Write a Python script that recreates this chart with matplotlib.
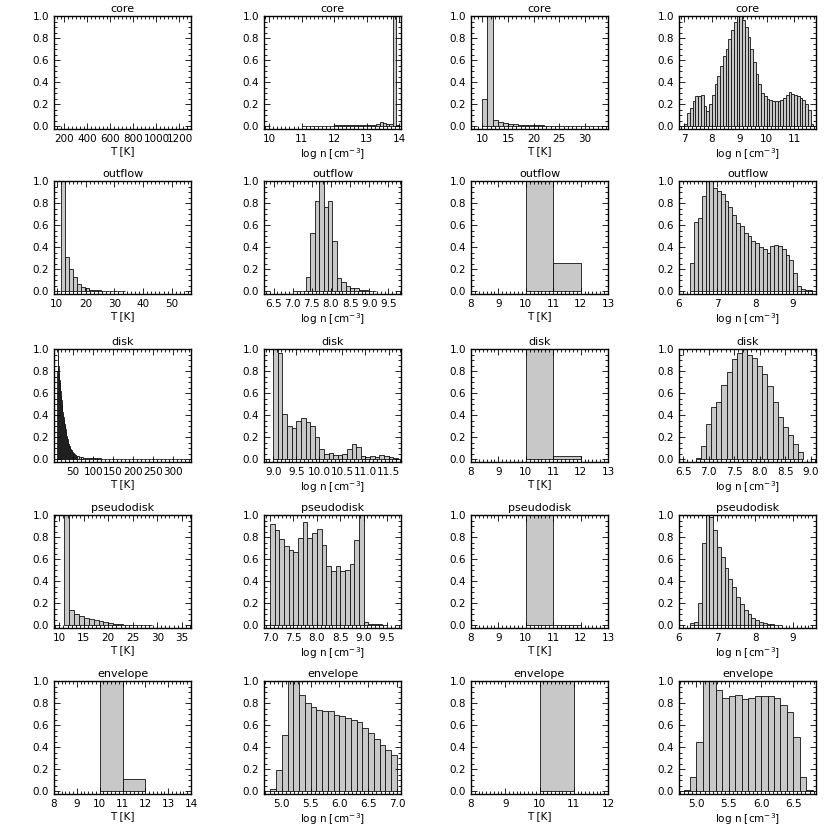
import numpy as np
import matplotlib
matplotlib.use("Agg")
import matplotlib.pyplot as plt
from matplotlib.ticker import MultipleLocator, AutoMinorLocator

plt.rcParams["font.family"] = ["DejaVu Sans"]
plt.rcParams["font.size"] = 7.5

# ---------------------------------------------------------------------------
# Data: normalised histograms (bin start, bin width, heights)
# ---------------------------------------------------------------------------
regions = ["core", "outflow", "disk", "pseudodisk", "envelope"]

# column 1 : T [K]
core_T1_start, core_T1_width = 10.0, 1.0
core_T1 = []  # nothing visible in range
outflow_T1_start, outflow_T1_width = 11.4, 1.4
outflow_T1 = [1.0, 0.31, 0.20, 0.13, 0.07, 0.04, 0.025, 0.015, 0.01, 0.008, 0.006,
              0.005, 0.004, 0.003, 0.003, 0.002]
disk_T1_start, disk_T1_width = 10.0, 1.0
disk_T1 = [0.80, 1.0, 0.95, 0.85, 0.78, 0.72, 0.70, 0.66, 0.62, 0.58,
           0.54, 0.50, 0.46, 0.43, 0.40, 0.38, 0.36, 0.34, 0.32, 0.30,
           0.27, 0.25, 0.23, 0.21, 0.20, 0.18, 0.17, 0.15, 0.14, 0.13,
           0.12, 0.11, 0.10, 0.09, 0.085, 0.08, 0.075, 0.07, 0.065, 0.06,
           0.055, 0.05, 0.048, 0.045, 0.042, 0.04, 0.037, 0.035, 0.032, 0.03]
disk_T1_tail_start, disk_T1_tail_width = 60.0, 5.0
disk_T1_tail = [0.025, 0.02, 0.017, 0.015, 0.013, 0.012, 0.011, 0.010, 0.009, 0.008,
                0.007, 0.007, 0.006, 0.006, 0.005, 0.005, 0.005, 0.004, 0.004, 0.004,
                0.004, 0.003, 0.003, 0.003, 0.003, 0.003, 0.003, 0.002, 0.002, 0.002,
                0.002, 0.002, 0.002, 0.002, 0.002, 0.002, 0.002, 0.002, 0.002, 0.002,
                0.002, 0.002, 0.002, 0.002, 0.002, 0.002, 0.002, 0.002, 0.002, 0.002,
                0.002, 0.002, 0.002, 0.002]
pseudo_T1_start, pseudo_T1_width = 11.0, 1.0
pseudo_T1 = [1.0, 0.14, 0.10, 0.08, 0.065, 0.055, 0.045, 0.035, 0.025, 0.018,
             0.012, 0.008, 0.006, 0.004, 0.003, 0.002, 0.002, 0.001]
env_T1_start, env_T1_width = 10.0, 1.0
env_T1 = [1.0, 0.11]

# column 2 : log n [cm^-3]
core_n1_start, core_n1_width = 11.0, 0.1
core_n1 = [0.002, 0.002, 0.002, 0.003, 0.003, 0.004, 0.004, 0.005, 0.006, 0.006,
           0.007, 0.008, 0.010, 0.012, 0.015, 0.014, 0.010, 0.008, 0.008, 0.010,
           0.012, 0.012, 0.015, 0.020, 0.035, 0.030, 0.022, 0.020, 1.0, 0.010]
outflow_n1_start, outflow_n1_width = 7.0, 0.115
outflow_n1 = [0.004, 0.005, 0.006, 0.13, 0.53, 0.82, 1.0, 0.76, 0.82, 0.46,
              0.12, 0.08, 0.05, 0.03, 0.025, 0.015, 0.01, 0.005, 0.003]
disk_n1_start, disk_n1_width = 9.0, 0.1
disk_n1 = [1.0, 0.96, 0.41, 0.30, 0.28, 0.35, 0.37, 0.34, 0.30, 0.20,
           0.09, 0.05, 0.06, 0.04, 0.04, 0.05, 0.09, 0.14, 0.11, 0.03,
           0.02, 0.03, 0.02, 0.04, 0.03, 0.02, 0.01]
pseudo_n1_start, pseudo_n1_width = 7.0, 0.1
pseudo_n1 = [0.92, 0.86, 0.78, 0.72, 0.68, 0.66, 0.79, 0.94, 0.79, 0.84,
             0.87, 0.73, 0.54, 0.49, 0.54, 0.49, 0.50, 0.56, 0.77, 1.0,
             0.03, 0.015, 0.015, 0.01, 0.005]
env_n1_start, env_n1_width = 4.8, 0.1
env_n1 = [0.02, 0.19, 0.51, 1.0, 1.0, 0.87, 0.80, 0.76, 0.74, 0.73,
          0.73, 0.69, 0.68, 0.66, 0.65, 0.63, 0.57, 0.53, 0.47, 0.42,
          0.37, 0.33]

# column 3 : T [K]
core_T2_start, core_T2_width = 10.0, 1.0
core_T2 = [0.25, 1.0, 0.06, 0.04, 0.03, 0.02, 0.02, 0.015, 0.012, 0.01,
           0.008, 0.007, 0.006, 0.005, 0.004, 0.004, 0.003, 0.003, 0.002, 0.002,
           0.002, 0.002, 0.001, 0.001]
outflow_T2_start, outflow_T2_width = 10.0, 1.0
outflow_T2 = [1.0, 0.26]
disk_T2_start, disk_T2_width = 10.0, 1.0
disk_T2 = [1.0, 0.03]
pseudo_T2_start, pseudo_T2_width = 10.0, 1.0
pseudo_T2 = [1.0, 0.005]
env_T2_start, env_T2_width = 10.0, 1.0
env_T2 = [1.0]

# column 4 : log n [cm^-3]
core_n2_start, core_n2_width = 7.0, 0.1
core_n2 = [0.02, 0.12, 0.17, 0.23, 0.27, 0.27, 0.28, 0.18, 0.14, 0.20,
           0.28, 0.38, 0.46, 0.55, 0.64, 0.70, 0.79, 0.87, 0.95, 1.0,
           1.0, 0.96, 0.90, 0.81, 0.70, 0.58, 0.47, 0.38, 0.30, 0.27,
           0.25, 0.24, 0.23, 0.23, 0.23, 0.24, 0.26, 0.28, 0.31, 0.29,
           0.28, 0.27, 0.26, 0.24, 0.20, 0.15, 0.02]
outflow_n2_start, outflow_n2_width = 6.3, 0.1
outflow_n2 = [0.26, 0.63, 0.66, 0.86, 1.0, 1.0, 0.94, 0.91, 0.88, 0.82,
              0.76, 0.69, 0.62, 0.59, 0.53, 0.50, 0.46, 0.44, 0.40, 0.38,
              0.35, 0.41, 0.42, 0.41, 0.38, 0.33, 0.28, 0.17, 0.05, 0.02,
              0.01, 0.01]
disk_n2_start, disk_n2_width = 6.75, 0.1
disk_n2 = [0.01, 0.12, 0.32, 0.47, 0.52, 0.67, 0.79, 0.91, 0.96, 1.0,
           0.95, 0.92, 0.85, 0.77, 0.66, 0.52, 0.38, 0.29, 0.22, 0.14,
           0.07]
pseudo_n2_start, pseudo_n2_width = 6.3, 0.1
pseudo_n2 = [0.02, 0.03, 0.20, 0.75, 1.0, 0.98, 0.86, 0.71, 0.62, 0.52,
             0.42, 0.35, 0.26, 0.19, 0.14, 0.10, 0.07, 0.05, 0.03, 0.02,
             0.015, 0.01, 0.005, 0.003]
env_n2_start, env_n2_width = 4.8, 0.1
env_n2 = [0.01, 0.13, 0.45, 1.0, 1.0, 0.92, 0.85, 0.86, 0.87, 0.84,
          0.85, 0.86, 0.86, 0.86, 0.85, 0.78, 0.72, 0.49, 0.13, 0.01]

# x ranges and tick spacing per panel (row, col)
xlims = [
    [(110, 1300), (9.84, 14.06), (7.8, 34.5), (6.8, 11.8)],
    [(9.0, 56.7), (6.25, 9.83), (8, 13), (6.0, 9.6)],
    [(2, 345), (8.8, 11.77), (8, 13), (6.42, 9.1)],
    [(8.9, 36.9), (6.87, 9.8), (8, 13), (6.0, 9.6)],
    [(8, 14), (4.69, 7.07), (8, 12), (4.73, 6.85)],
]
xmajor = [
    [200, 1, 5, 1],
    [10, 0.5, 1, 1],
    [50, 0.5, 1, 0.5],
    [5, 0.5, 1, 1],
    [1, 0.5, 1, 0.5],
]

hists = [
    [[(core_T1_start, core_T1_width, core_T1)],
     [(core_n1_start, core_n1_width, core_n1)],
     [(core_T2_start, core_T2_width, core_T2)],
     [(core_n2_start, core_n2_width, core_n2)]],
    [[(outflow_T1_start, outflow_T1_width, outflow_T1)],
     [(outflow_n1_start, outflow_n1_width, outflow_n1)],
     [(outflow_T2_start, outflow_T2_width, outflow_T2)],
     [(outflow_n2_start, outflow_n2_width, outflow_n2)]],
    [[(disk_T1_start, disk_T1_width, disk_T1),
      (disk_T1_tail_start, disk_T1_tail_width, disk_T1_tail)],
     [(disk_n1_start, disk_n1_width, disk_n1)],
     [(disk_T2_start, disk_T2_width, disk_T2)],
     [(disk_n2_start, disk_n2_width, disk_n2)]],
    [[(pseudo_T1_start, pseudo_T1_width, pseudo_T1)],
     [(pseudo_n1_start, pseudo_n1_width, pseudo_n1)],
     [(pseudo_T2_start, pseudo_T2_width, pseudo_T2)],
     [(pseudo_n2_start, pseudo_n2_width, pseudo_n2)]],
    [[(env_T1_start, env_T1_width, env_T1)],
     [(env_n1_start, env_n1_width, env_n1)],
     [(env_T2_start, env_T2_width, env_T2)],
     [(env_n2_start, env_n2_width, env_n2)]],
]

xlabels = ["T [K]", r"log n [cm$^{-3}$]", "T [K]", r"log n [cm$^{-3}$]"]

# ---------------------------------------------------------------------------
# Layout (pixel-measured)
# ---------------------------------------------------------------------------
W = 830.0
lefts = [54, 264, 471, 679]
tops = [16, 181, 349, 515, 681]
pw, ph = 137, 113

fig = plt.figure(figsize=(8.3, 8.3), dpi=100)

for r in range(5):
    for c in range(4):
        ax = fig.add_axes([lefts[c] / W, 1 - (tops[r] + ph) / W, pw / W, ph / W])
        for start, width, vals in hists[r][c]:
            if len(vals) == 0:
                continue
            edges = start + width * np.arange(len(vals))
            ax.bar(edges, vals, width=width, align="edge",
                   color="#c8c8c8", edgecolor="#111111", linewidth=0.6)
        x0, x1 = xlims[r][c]
        ax.set_xlim(x0, x1)
        ax.set_ylim(-0.025, 1.0)
        ax.xaxis.set_major_locator(MultipleLocator(xmajor[r][c]))
        # IDL-like dense minor ticks (~4 px apart)
        major_px = xmajor[r][c] / (x1 - x0) * pw
        ax.xaxis.set_minor_locator(AutoMinorLocator(max(2, int(round(major_px / 4)))))
        ax.yaxis.set_major_locator(MultipleLocator(0.2))
        ax.yaxis.set_minor_locator(AutoMinorLocator(4))
        ax.yaxis.set_major_formatter(plt.FormatStrFormatter("%.1f"))
        if xmajor[r][c] < 1:
            ax.xaxis.set_major_formatter(plt.FormatStrFormatter("%.1f"))
        else:
            ax.xaxis.set_major_formatter(plt.FormatStrFormatter("%d"))
        ax.tick_params(which="both", direction="in", top=True, right=True,
                       labelsize=7.5, width=0.6, pad=3.5)
        ax.tick_params(which="major", length=4)
        ax.tick_params(which="minor", length=2)
        for s in ax.spines.values():
            s.set_linewidth(1.0)
        ax.set_title(regions[r], fontsize=8, pad=3)
        ax.set_xlabel(xlabels[c], fontsize=7.5, labelpad=1.5)

fig.savefig("out.png", dpi=100, facecolor="white")
